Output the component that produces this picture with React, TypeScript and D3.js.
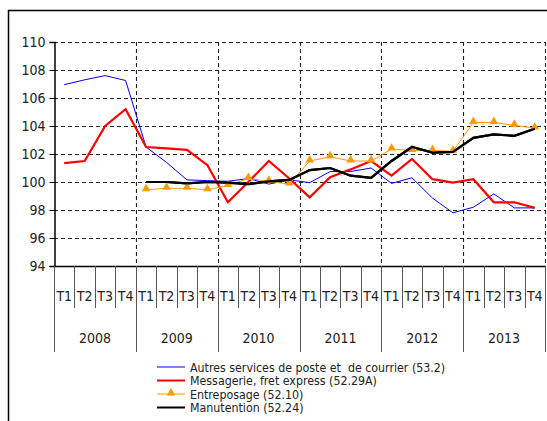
import {useEffect, useRef} from 'react';
import * as d3 from 'd3';

const years = ['2008', '2009', '2010', '2011', '2012', '2013'];
const quarters = ['T1', 'T2', 'T3', 'T4'];
const yTicks = [94, 96, 98, 100, 102, 104, 106, 108, 110];

const autres = [
  106.95, 107.3, 107.6, 107.25, 102.5, 101.4, 100.15, 100.1, 100.05, 100.25, 99.85, 100.15,
  99.95, 100.75, 100.75, 101.0, 99.9, 100.3, 98.85, 97.8, 98.2, 99.15, 98.15, 98.15,
];
const messagerie = [
  101.35, 101.5, 104.0, 105.2, 102.5, 102.4, 102.3, 101.2, 98.55, 100.0, 101.5, 100.25,
  98.9, 100.35, 100.9, 101.5, 100.45, 101.65, 100.2, 99.95, 100.2, 98.55, 98.55, 98.15,
];
const entreposage = [
  null, null, null, null, 99.45, 99.55, 99.55, 99.45, 99.75, 100.25, 100.05, 99.85,
  101.5, 101.8, 101.5, 101.5, 102.35, 102.25, 102.25, 102.2, 104.25, 104.25, 104.05, 103.85,
];
const manutention = [
  null, null, null, null, 100, 100, 99.9, 100, 99.95, 99.85, 100.05, 100.15,
  100.85, 101.0, 100.45, 100.3, 101.5, 102.5, 102.1, 102.15, 103.15, 103.4, 103.3, 103.8,
];

const seriesNames = [
  'Autres services de poste et  de courrier (53.2)',
  'Messagerie, fret express (52.29A)',
  'Entreposage (52.10)',
  'Manutention (52.24)',
];

const FONT = '"Liberation Sans Narrow", "DejaVu Sans Condensed", "Liberation Sans", sans-serif';

export default function App() {
  const svgRef = useRef<SVGSVGElement>(null);

  useEffect(() => {
    if (!svgRef.current) return;
    const width = 547;
    const height = 421;
    const svg = d3.select(svgRef.current);
    svg.selectAll('*').remove();

    const margin = {top: 42, left: 54, right: 545, bottom: 266};
    const labels = years.flatMap((y) => quarters.map((q) => `${y}-${q}`));

    const x = d3.scaleBand().domain(labels).range([margin.left, margin.right]);
    const y = d3.scaleLinear().domain([94, 110]).range([margin.bottom, margin.top]);

    svg.append('rect').attr('width', width).attr('height', height).attr('fill', '#fff');

    // outer frame
    svg
      .append('path')
      .attr('d', `M8.5,${height + 5}V10.5H${width + 5}`)
      .attr('fill', 'none')
      .attr('stroke', '#000')
      .attr('stroke-width', 1.5);

    // horizontal grid
    svg
      .append('g')
      .selectAll('line')
      .data(yTicks.filter((t) => t > 94))
      .join('line')
      .attr('x1', margin.left)
      .attr('x2', margin.right)
      .attr('y1', (d) => Math.round(y(d)) + 0.5)
      .attr('y2', (d) => Math.round(y(d)) + 0.5)
      .attr('stroke', '#222')
      .attr('stroke-width', 1.1)
      .attr('stroke-dasharray', '4,3');

    // vertical grid at year boundaries
    const yearEdges = years.map((yr) => x(`${yr}-T1`) as number).concat([margin.right]);
    svg
      .append('g')
      .selectAll('line')
      .data(yearEdges.slice(1))
      .join('line')
      .attr('x1', (d) => Math.round(d) + 0.5)
      .attr('x2', (d) => Math.round(d) + 0.5)
      .attr('y1', margin.top)
      .attr('y2', margin.bottom)
      .attr('stroke', '#222')
      .attr('stroke-width', 1.1)
      .attr('stroke-dasharray', '4,3');

    // y axis
    const yAxis = svg
      .append('g')
      .attr('transform', `translate(${margin.left + 0.5},0)`)
      .call(d3.axisLeft(y).tickValues(yTicks).tickSize(5).tickPadding(4).tickFormat(d3.format('d')));
    yAxis.select('.domain').attr('stroke', '#000').attr('stroke-width', 1.5);
    yAxis.selectAll('line').attr('stroke', '#000');
    yAxis
      .selectAll('text')
      .attr('font-family', FONT)
      .attr('font-size', 14)
      .attr('fill', '#222');

    // category axis
    svg
      .append('line')
      .attr('x1', margin.left)
      .attr('x2', margin.right + 1)
      .attr('y1', margin.bottom + 0.5)
      .attr('y2', margin.bottom + 0.5)
      .attr('stroke', '#000')
      .attr('stroke-width', 1.5);

    const qEdges = labels.map((l) => x(l) as number);
    svg
      .append('g')
      .selectAll('line')
      .data(qEdges.filter((_, i) => i % 4 !== 0))
      .join('line')
      .attr('x1', (d) => Math.round(d) + 0.5)
      .attr('x2', (d) => Math.round(d) + 0.5)
      .attr('y1', margin.bottom)
      .attr('y2', 308)
      .attr('stroke', '#555');

    svg
      .append('g')
      .selectAll('line')
      .data(yearEdges)
      .join('line')
      .attr('x1', (d) => Math.round(d) + 0.5)
      .attr('x2', (d) => Math.round(d) + 0.5)
      .attr('y1', margin.bottom)
      .attr('y2', 352)
      .attr('stroke', '#555');

    svg
      .append('g')
      .selectAll('text')
      .data(labels)
      .join('text')
      .attr('x', (d) => (x(d) as number) + x.bandwidth() / 2)
      .attr('y', 301)
      .attr('text-anchor', 'middle')
      .attr('font-family', FONT)
      .attr('font-size', 14)
      .attr('fill', '#222')
      .text((d) => d.split('-')[1]);

    svg
      .append('g')
      .selectAll('text')
      .data(years)
      .join('text')
      .attr('x', (d) => (x(`${d}-T1`) as number) + x.bandwidth() * 2)
      .attr('y', 343)
      .attr('text-anchor', 'middle')
      .attr('font-family', FONT)
      .attr('font-size', 14)
      .attr('fill', '#222')
      .text((d) => d);

    const cx = (i: number) => (x(labels[i]) as number) + x.bandwidth() / 2;
    const line = d3
      .line<number | null>()
      .defined((d) => d !== null)
      .x((_, i) => cx(i))
      .y((d) => y(d as number));

    const series = [
      {values: autres, color: '#0000ff', width: 1},
      {values: messagerie, color: '#ff0000', width: 2.2},
      {values: entreposage, color: '#ff9900', width: 1},
      {values: manutention, color: '#000000', width: 2.2},
    ];

    series.forEach((s) => {
      svg
        .append('path')
        .datum(s.values as (number | null)[])
        .attr('d', line)
        .attr('fill', 'none')
        .attr('stroke', s.color)
        .attr('stroke-width', s.width)
        .attr('stroke-linejoin', 'miter');
    });

    const tri = d3.symbol().type(d3.symbolTriangle).size(32);
    svg
      .append('g')
      .selectAll('path')
      .data(entreposage.map((v, i) => ({v, i})).filter((d) => d.v !== null))
      .join('path')
      .attr('d', tri)
      .attr('transform', (d) => `translate(${cx(d.i)},${y(d.v as number) - 1})`)
      .attr('fill', '#ff9900');

    // bring black line above entreposage markers
    svg
      .append('path')
      .datum(manutention as (number | null)[])
      .attr('d', line)
      .attr('fill', 'none')
      .attr('stroke', '#000')
      .attr('stroke-width', 2.2);

    // legend
    const legend = svg.append('g');
    seriesNames.forEach((name, i) => {
      const ly = 367 + i * 13.5;
      const s = series[i];
      legend
        .append('line')
        .attr('x1', 157)
        .attr('x2', 185)
        .attr('y1', ly)
        .attr('y2', ly)
        .attr('stroke', s.color)
        .attr('stroke-width', s.width === 1 ? 1 : 2);
      if (i === 2) {
        legend
          .append('path')
          .attr('d', tri)
          .attr('transform', `translate(171,${ly - 1})`)
          .attr('fill', '#ff9900');
      }
      legend
        .append('text')
        .attr('x', 190)
        .attr('y', ly + 4.5)
        .attr('font-family', FONT)
        .attr('font-size', 12.3)
        .attr('fill', '#222')
        .style('white-space', 'pre')
        .text(name);
    });
  }, []);

  return (
    <svg
      ref={svgRef}
      width={547}
      height={421}
      style={{position: 'absolute', left: 0, top: 0, display: 'block'}}
    />
  );
}
